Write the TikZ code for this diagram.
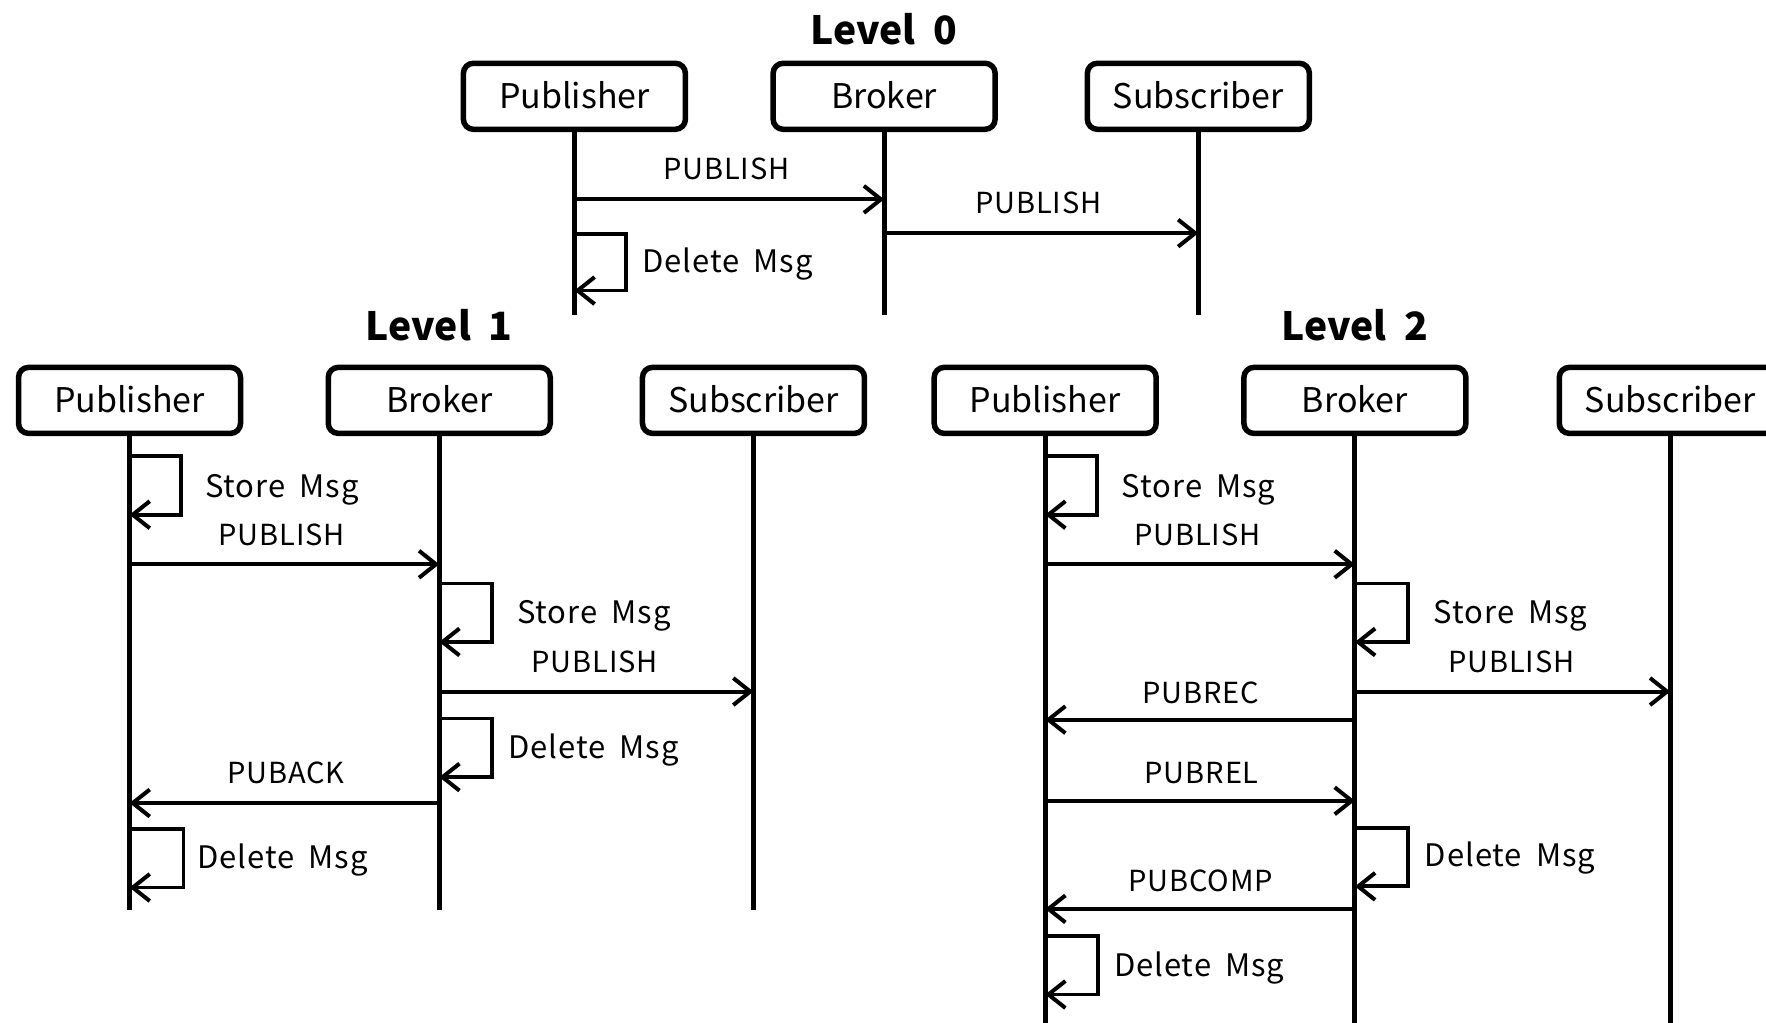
\documentclass[tikz,border=0pt]{standalone}
\usepackage{fontspec}
\setmainfont{Noto Sans CJK KR}
\newfontfamily\msgfont{Noto Sans CJK KR}[LetterSpace=3]
\newfontfamily\notefont{Noto Sans CJK KR}[LetterSpace=3,WordSpace=1.8]
\newfontfamily\headfont{Noto Sans CJK KR}[WordSpace=2]
\usetikzlibrary{arrows.meta}

% self message: a small loop on a lifeline, from y=#2 down to y=#3, reaching #4 to the right
\newcommand\selfmsg[4]{%
  \draw[loopmsg] (#1.south |- 0,#2) -- ++(#4,0) |- (#1.south |- 0,#3);}

\begin{document}
\begin{tikzpicture}[x=1.1263pt, y=-1.1263pt,
  actor/.style={draw, line width=5.5pt, rounded corners=10pt,
    minimum width=222pt, minimum height=66pt, inner sep=0pt,
    text height=25pt, text depth=0pt,
    font=\fontsize{34}{40}\selectfont},
  life/.style={line width=5pt},
  msg/.style={line width=4pt,
    -{Straight Barb[length=17pt,width=27pt,line width=4pt]}},
  loopmsg/.style={msg, line width=3.8pt},
  lbl/.style={font=\msgfont\fontsize{29}{34}\selectfont,
    inner sep=0pt, anchor=base},
  lblw/.style={font=\notefont\fontsize{31}{36}\selectfont,
    inner sep=0pt, anchor=base west},
  title/.style={font=\headfont\bfseries\fontsize{39}{44}\selectfont,
    inner sep=0pt, anchor=base}]

\useasboundingbox (0,0) rectangle (1568,908);

% ---------------- Level 0 ----------------
\node[title] (t0) at (785,39.4) {Level 0};
\node[actor] (P0) at (510,85.5) {Publisher};
\node[actor] (B0) at (785,85.5) {Broker};
\node[actor] (S0) at (1064,85.5) {Subscriber};
\foreach \n in {P0,B0,S0} {
  \coordinate (\n end) at (\n.south |- 0,280);
  \draw[life] (\n.south) -- (\n end);
}
\draw[msg] (P0.south |- 0,177) -- (B0.south |- 0,177);
\node[lbl] (m01) at (645,159.3) {PUBLISH};
\draw[msg] (B0.south |- 0,207) -- (S0.south |- 0,207);
\node[lbl] (m02) at (922,189.3) {PUBLISH};
\selfmsg{P0}{208}{258}{46}
\node[lblw] (m03) at (570,242.3) {Delete Msg};

% ---------------- Level 1 ----------------
\node[title] (t1) at (390,302.4) {Level 1};
\node[actor] (P1) at (115,355.5) {Publisher};
\node[actor] (B1) at (390,355.5) {Broker};
\node[actor] (S1) at (669,355.5) {Subscriber};
\foreach \n in {P1,B1,S1} {
  \coordinate (\n end) at (\n.south |- 0,808);
  \draw[life] (\n.south) -- (\n end);
}
\selfmsg{P1}{405}{457}{46}
\node[lblw] (m11) at (182,441.3) {Store Msg};
\draw[msg] (P1.south |- 0,501) -- (B1.south |- 0,501);
\node[lbl] (m12) at (250,484.3) {PUBLISH};
\selfmsg{B1}{518}{570}{47}
\node[lblw] (m13) at (459,553.3) {Store Msg};
\draw[msg] (B1.south |- 0,614) -- (S1.south |- 0,614);
\node[lbl] (m14) at (528,597.3) {PUBLISH};
\selfmsg{B1}{638}{690}{47}
\node[lblw] (m15) at (451,673.3) {Delete Msg};
\draw[msg] (B1.south |- 0,713) -- (P1.south |- 0,713);
\node[lbl] (m16) at (254,695.3) {PUBACK};
\selfmsg{P1}{736}{788}{48}
\node[lblw] (m17) at (175,771.3) {Delete Msg};

% ---------------- Level 2 ----------------
\node[title] (t2) at (1203,302.4) {Level 2};
\node[actor] (P2) at (928,355.5) {Publisher};
\node[actor] (B2) at (1203,355.5) {Broker};
\node[actor] (S2) at (1483,355.5) {Subscriber};
\foreach \n in {P2,B2,S2} {
  \coordinate (\n end) at (\n.south |- 0,915);
  \draw[life] (\n.south) -- (\n end);
}
\selfmsg{P2}{405}{457}{46}
\node[lblw] (m21) at (996,441.3) {Store Msg};
\draw[msg] (P2.south |- 0,501) -- (B2.south |- 0,501);
\node[lbl] (m22) at (1063,484.3) {PUBLISH};
\selfmsg{B2}{518}{570}{47}
\node[lblw] (m23) at (1273,553.3) {Store Msg};
\draw[msg] (B2.south |- 0,614) -- (S2.south |- 0,614);
\node[lbl] (m24) at (1342,597.3) {PUBLISH};
\draw[msg] (B2.south |- 0,639) -- (P2.south |- 0,639);
\node[lbl] (m25) at (1066,624.3) {PUBREC};
\draw[msg] (P2.south |- 0,711) -- (B2.south |- 0,711);
\node[lbl] (m26) at (1067,695.3) {PUBREL};
\selfmsg{B2}{735}{787}{47}
\node[lblw] (m27) at (1265,769.3) {Delete Msg};
\draw[msg] (B2.south |- 0,807) -- (P2.south |- 0,807);
\node[lbl] (m28) at (1066,791.3) {PUBCOMP};
\selfmsg{P2}{831}{883}{47}
\node[lblw] (m29) at (989,867.3) {Delete Msg};
\end{tikzpicture}
\end{document}
